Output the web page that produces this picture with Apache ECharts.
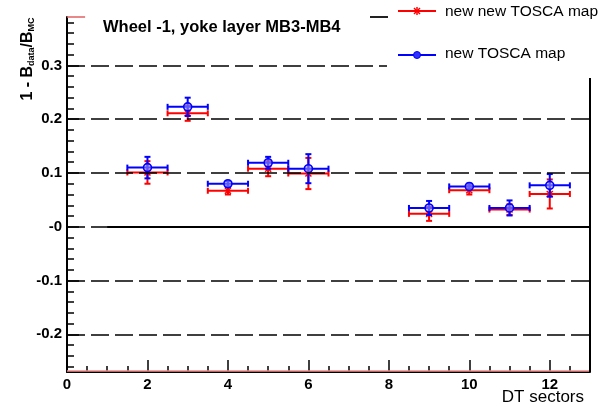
<!DOCTYPE html>
<html>
<head>
<meta charset="utf-8">
<script src="https://cdn.jsdelivr.net/npm/echarts@6/dist/echarts.min.js"></script>
<style>
  html, body { margin: 0; padding: 0; background: #fff; }
  #chart { width: 604px; height: 413px; }
</style>
</head>
<body>
<div id="chart"></div>
<script>
// DT sectors with a measurement
const sectors = [2, 3, 4, 5, 6, 9, 10, 11, 12];
// horizontal half-width of each sector bin
const sectorHalfWidth = [0.5, 0.5, 0.5, 0.5, 0.5, 0.5, 0.5, 0.5, 0.5];

// 1 - B_data/B_MC for the "new TOSCA map"
const newMapValues = [0.110, 0.223, 0.080, 0.119, 0.108, 0.035, 0.075, 0.035, 0.077];
const newMapErrors = [0.020, 0.017, 0.005, 0.011, 0.027, 0.013, 0.005, 0.014, 0.021];

// 1 - B_data/B_MC for the "new new TOSCA map"
const newNewMapValues = [0.101, 0.211, 0.067, 0.108, 0.099, 0.024, 0.068, 0.032, 0.061];
const newNewMapErrors = [0.021, 0.014, 0.007, 0.014, 0.029, 0.013, 0.008, 0.010, 0.027];

// axis ticks and labels
const yMajorTicks = [-0.2, -0.1, 0, 0.1, 0.2, 0.3];
const yMinorTicks = [-0.26, -0.24, -0.22, -0.18, -0.16, -0.14, -0.12, -0.08, -0.06, -0.04, -0.02,
                     0.02, 0.04, 0.06, 0.08, 0.12, 0.14, 0.16, 0.18, 0.22, 0.24, 0.26, 0.28,
                     0.32, 0.34, 0.36, 0.38];
const xMajorTicks = [0, 2, 4, 6, 8, 10, 12];
const xMinorTicks = [0.5, 1, 1.5, 2.5, 3, 3.5, 4.5, 5, 5.5, 6.5, 7, 7.5, 8.5, 9, 9.5,
                     10.5, 11, 11.5, 12.5, 13];
const gridLevels = [-0.2, -0.1, 0, 0.1, 0.2, 0.3];

const Y_MIN = -0.27, Y_MAX = 0.39, X_MIN = 0, X_MAX = 13;
const FONT = '"Liberation Sans", Arial, Helvetica, sans-serif';

function buildPoints(values, errors) {
  return sectors.map((s, i) => [s, values[i], errors[i], sectorHalfWidth[i]]);
}

function starShapes(cx, cy, color, z) {
  const r = 3, st = { stroke: color, lineWidth: 1.5 };
  const extra = z == null ? {} : { z };
  return [
    Object.assign({ type: 'line', shape: { x1: cx - r, y1: cy - r, x2: cx + r, y2: cy + r }, style: st }, extra),
    Object.assign({ type: 'line', shape: { x1: cx - r, y1: cy + r, x2: cx + r, y2: cy - r }, style: st }, extra),
    Object.assign({ type: 'line', shape: { x1: cx, y1: cy - r - 1, x2: cx, y2: cy + r + 1 }, style: st }, extra)
  ];
}

function errorBarRenderer(color, markerKind) {
  return function (params, api) {
    const x = api.value(0), y = api.value(1), e = api.value(2), hw = api.value(3);
    const c = api.coord([x, y]);
    const left = api.coord([x - hw, y]);
    const right = api.coord([x + hw, y]);
    const top = api.coord([x, y + e]);
    const bot = api.coord([x, y - e]);
    const cap = 3;
    const ls = { stroke: color, lineWidth: 2 };
    const children = [
      { type: 'line', shape: { x1: left[0], y1: c[1], x2: right[0], y2: c[1] }, style: ls },
      { type: 'line', shape: { x1: left[0], y1: c[1] - cap, x2: left[0], y2: c[1] + cap }, style: ls },
      { type: 'line', shape: { x1: right[0], y1: c[1] - cap, x2: right[0], y2: c[1] + cap }, style: ls },
      { type: 'line', shape: { x1: c[0], y1: top[1], x2: c[0], y2: bot[1] }, style: ls },
      { type: 'line', shape: { x1: c[0] - cap, y1: top[1], x2: c[0] + cap, y2: top[1] }, style: ls },
      { type: 'line', shape: { x1: c[0] - cap, y1: bot[1], x2: c[0] + cap, y2: bot[1] }, style: ls }
    ];
    if (markerKind === 'circle') {
      children.push({ type: 'circle', shape: { cx: c[0], cy: c[1], r: 4 },
        style: { fill: 'rgba(150,150,255,0.6)', stroke: color, lineWidth: 1.6 } });
    } else {
      children.push(...starShapes(c[0], c[1], color));
    }
    return { type: 'group', children };
  };
}

const chart = echarts.init(document.getElementById('chart'), null, { renderer: 'canvas' });

const option = {
  animation: false,
  backgroundColor: '#fff',
  grid: { left: 67, top: 17, right: 14, bottom: 41 },
  xAxis: [
    {
      type: 'value', min: X_MIN, max: X_MAX,
      axisLine: { show: true, onZero: false, lineStyle: { color: '#000', width: 2 } },
      axisTick: { show: true, inside: true, length: 12, customValues: xMajorTicks, lineStyle: { color: '#000', width: 1.5 } },
      axisLabel: { show: true, customValues: xMajorTicks, margin: 5, color: '#000',
        fontFamily: FONT, fontSize: 15, fontWeight: 'bold' },
      splitLine: { show: false }
    },
    {
      type: 'value', min: X_MIN, max: X_MAX, position: 'bottom',
      axisLine: { show: false, onZero: false },
      axisTick: { show: true, inside: true, length: 6, customValues: xMinorTicks, lineStyle: { color: '#000', width: 1.5 } },
      axisLabel: { show: false },
      splitLine: { show: false }
    }
  ],
  yAxis: [
    {
      type: 'value', min: Y_MIN, max: Y_MAX,
      axisLine: { show: true, onZero: false, lineStyle: { color: '#000', width: 2 } },
      axisTick: { show: true, inside: true, length: 12, customValues: yMajorTicks, lineStyle: { color: '#000', width: 1.5 } },
      axisLabel: { show: true, customValues: yMajorTicks, margin: 5, color: '#000',
        fontFamily: FONT, fontSize: 15, fontWeight: 'bold',
        formatter: v => (Math.abs(v) < 1e-9 ? '-0' : String(+v.toFixed(2))) },
      splitLine: { show: false }
    },
    {
      type: 'value', min: Y_MIN, max: Y_MAX, position: 'left',
      axisLine: { show: false, onZero: false },
      axisTick: { show: true, inside: true, length: 7, customValues: yMinorTicks, lineStyle: { color: '#000', width: 1.5 } },
      axisLabel: { show: false },
      splitLine: { show: false }
    }
  ],
  series: [
    {
      // reference levels
      type: 'scatter', data: [], silent: true,
      markLine: {
        silent: true, symbol: 'none', animation: false,
        label: { show: false },
        data: [
          ...gridLevels.map(v => ({ yAxis: v, lineStyle: { color: '#000', width: 1.5, type: [18, 6] } })),
          [{ coord: [1.0, 0], lineStyle: { color: '#000', width: 1.8, type: 'solid' } }, { coord: [X_MAX, 0] }],
          [{ coord: [X_MIN, Y_MIN + 0.003], lineStyle: { color: '#f28a8a', width: 1.5, type: 'solid' } }, { coord: [X_MAX, Y_MIN + 0.003] }],
          [{ coord: [X_MIN, Y_MAX], lineStyle: { color: '#e06060', width: 1.5, type: 'solid' } }, { coord: [0.45, Y_MAX] }]
        ]
      }
    },
    {
      name: 'new new TOSCA map', type: 'custom', z: 3,
      renderItem: errorBarRenderer('#ff0000', 'star'),
      data: buildPoints(newNewMapValues, newNewMapErrors),
      encode: { x: 0, y: 1 }
    },
    {
      name: 'new TOSCA map', type: 'custom', z: 4,
      renderItem: errorBarRenderer('#0000ff', 'circle'),
      data: buildPoints(newMapValues, newMapErrors),
      encode: { x: 0, y: 1 }
    }
  ],
  graphic: [
    // right frame edge below the legend box
    { type: 'line', z: 50, shape: { x1: 590, y1: 78, x2: 590, y2: 372 }, style: { stroke: '#000', lineWidth: 2 } },
    // legend box area
    { type: 'rect', z: 60, shape: { x: 387, y: 0, width: 217, height: 78 }, style: { fill: '#fff' } },
    { type: 'line', z: 61, shape: { x1: 370, y1: 17, x2: 388, y2: 17 }, style: { stroke: '#222', lineWidth: 2 } },
    { type: 'line', z: 61, shape: { x1: 398, y1: 11, x2: 436, y2: 11 }, style: { stroke: '#ff0000', lineWidth: 2 } },
    ...starShapes(417, 11, '#ff0000', 62),
    { type: 'text', z: 61, x: 445, y: 12, style: { text: 'new new TOSCA map', fill: '#000',
      font: '15.5px ' + FONT, verticalAlign: 'middle', align: 'left' } },
    { type: 'line', z: 61, shape: { x1: 398, y1: 55, x2: 436, y2: 55 }, style: { stroke: '#0000ff', lineWidth: 2 } },
    { type: 'circle', z: 62, shape: { cx: 417, cy: 55, r: 3.5 }, style: { fill: '#3030ff', stroke: '#0000ff', lineWidth: 1 } },
    { type: 'text', z: 61, x: 445, y: 54, style: { text: 'new TOSCA map', fill: '#000',
      font: '15.5px ' + FONT, verticalAlign: 'middle', align: 'left' } },
    // title
    { type: 'text', z: 61, x: 103, y: 27, style: { text: 'Wheel -1, yoke layer MB3-MB4', fill: '#000',
      font: 'bold 16.5px ' + FONT, verticalAlign: 'middle', align: 'left' } },
    // axis titles
    { type: 'text', z: 61, x: 584, y: 397, style: { text: 'DT sectors', fill: '#000',
      font: '17px ' + FONT, verticalAlign: 'middle', align: 'right' } },
    { type: 'text', z: 61, x: 28, y: 59, rotation: Math.PI / 2, style: {
      text: '{a|1 - B}{s|data}{a|/B}{s|MC}', align: 'center', verticalAlign: 'middle',
      rich: {
        a: { fontFamily: FONT, fontSize: 16, fontWeight: 'bold', fill: '#000', color: '#000' },
        s: { fontFamily: FONT, fontSize: 9, fontWeight: 'bold', fill: '#000', color: '#000', verticalAlign: 'bottom', padding: [7, 0, 0, 0] }
      } } }
  ]
};

chart.setOption(option);
</script>
</body>
</html>
